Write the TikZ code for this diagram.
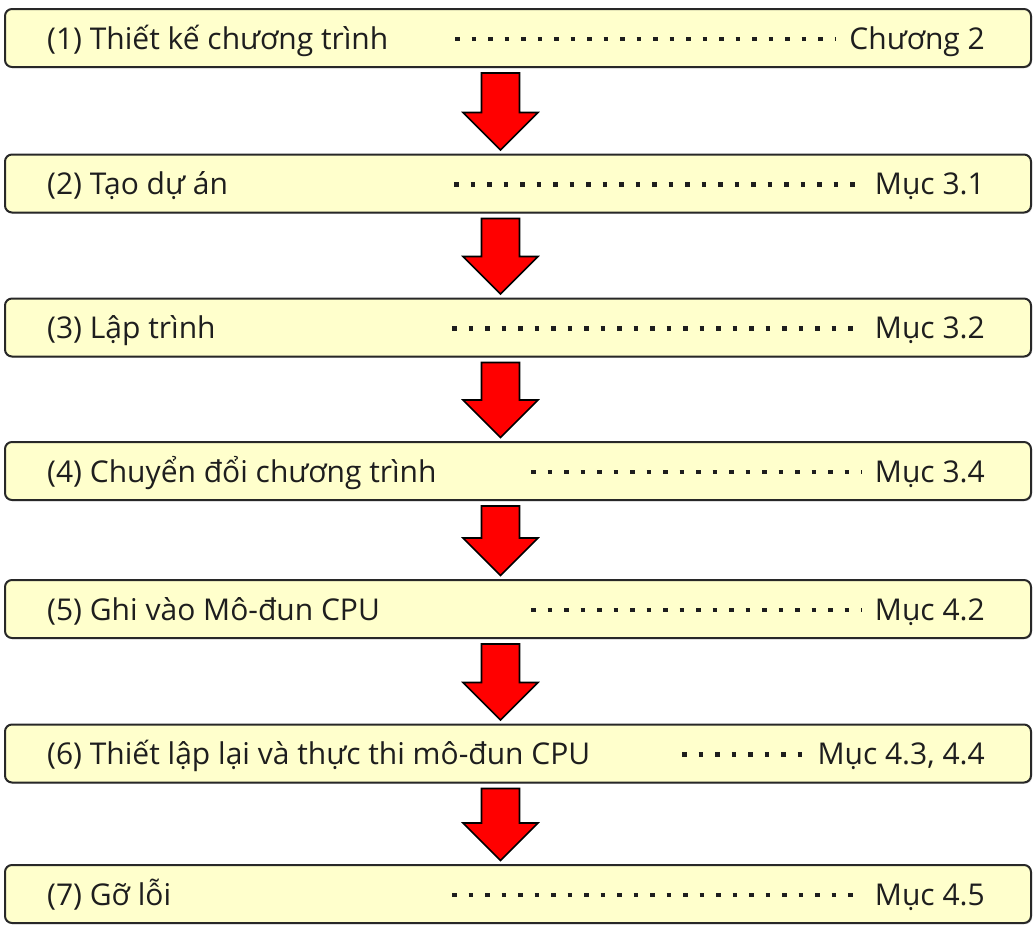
\documentclass[tikz,border=0pt]{standalone}
\usepackage{fontspec}
\setmainfont{Open Sans}
\usetikzlibrary{calc,shadows}

\definecolor{boxfill}{RGB}{255,255,204}
\definecolor{boxline}{RGB}{40,40,40}
\definecolor{textgray}{RGB}{30,30,30}

% block arrow from one box down to the next
\newcommand{\redarrow}[2]{%
    \filldraw[bigarrow] ($(#1.south -| axis)+(-19pt,-5pt)$) -- ($(#1.south -| axis)+(19pt,-5pt)$)
        -- ($(#2.north -| axis)+(19pt,41pt)$) -- ($(#2.north -| axis)+(37.5pt,41pt)$)
        -- ($(#2.north -| axis)+(0,3.5pt)$)
        -- ($(#2.north -| axis)+(-37.5pt,41pt)$) -- ($(#2.north -| axis)+(-19pt,41pt)$) -- cycle;}

\begin{document}
\begin{tikzpicture}[
    stepbox/.style={rectangle, rounded corners=7pt, draw=boxline, line width=2pt, fill=boxfill,
        minimum width=1026pt, minimum height=58pt, inner sep=0pt,
        drop shadow={shadow xshift=1.2pt, shadow yshift=-1.2pt, opacity=0.3}},
    steptext/.style={inner sep=0pt, anchor=base west, text=textgray, font=\fontsize{30}{34}\selectfont},
    reftext/.style={inner sep=0pt, anchor=base east, text=textgray, font=\fontsize{30}{34}\selectfont},
    dotline/.style={line width=4.5pt, dash pattern=on 4.5pt off 12pt, textgray},
    bigarrow/.style={fill=red, draw=black, line width=1.6pt, line join=miter}
]
    \useasboundingbox (0,0) rectangle (1036pt,-932pt);
    \coordinate (axis) at (500.5pt,0);

    % Draw boxes
    \node[stepbox] (1) at (518pt,-38pt) {};
    \node[stepbox] (2) at (518pt,-183.5pt) {};
    \node[stepbox] (3) at (518pt,-327.5pt) {};
    \node[stepbox] (4) at (518pt,-471pt) {};
    \node[stepbox] (5) at (518pt,-609pt) {};
    \node[stepbox] (6) at (518pt,-753.5pt) {};
    \node[stepbox] (7) at (518pt,-894pt) {};

    % Draw arrows
    \redarrow{1}{2}
    \redarrow{2}{3}
    \redarrow{3}{4}
    \redarrow{4}{5}
    \redarrow{5}{6}
    \redarrow{6}{7}

    % Labels
    \node[steptext] (t1) at ($(1.west)+(43pt,-11pt)$) {(1) Thiết kế chương trình};
    \node[steptext] (t2) at ($(2.west)+(43pt,-11pt)$) {(2) Tạo dự án};
    \node[steptext] (t3) at ($(3.west)+(43pt,-11pt)$) {(3) Lập trình};
    \node[steptext] (t4) at ($(4.west)+(43pt,-11pt)$) {(4) Chuyển đổi chương trình};
    \node[steptext] (t5) at ($(5.west)+(43pt,-11pt)$) {(5) Ghi vào Mô-đun CPU};
    \node[steptext] (t6) at ($(6.west)+(43pt,-11pt)$) {(6) Thiết lập lại và thực thi mô-đun CPU};
    \node[steptext] (t7) at ($(7.west)+(43pt,-11pt)$) {(7) Gỡ lỗi};

    \node[reftext] (r1) at ($(1.east)+(-47pt,-11pt)$) {Chương 2};
    \node[reftext] (r2) at ($(2.east)+(-47pt,-11pt)$) {Mục 3.1};
    \node[reftext] (r3) at ($(3.east)+(-47pt,-11pt)$) {Mục 3.2};
    \node[reftext] (r4) at ($(4.east)+(-47pt,-11pt)$) {Mục 3.4};
    \node[reftext] (r5) at ($(5.east)+(-47pt,-11pt)$) {Mục 4.2};
    \node[reftext] (r6) at ($(6.east)+(-47pt,-11pt)$) {Mục 4.3, 4.4};
    \node[reftext] (r7) at ($(7.east)+(-47pt,-11pt)$) {Mục 4.5};

    % Dotted leaders
    \draw[dotline] ($(1.west)+(451pt,-1pt)$) -- ($(r1.west |- 1)+(-13pt,-1pt)$);
    \draw[dotline] ($(2.west)+(450pt,-1pt)$) -- ($(r2.west |- 2)+(-13pt,-1pt)$);
    \draw[dotline] ($(3.west)+(448pt,-1pt)$) -- ($(r3.west |- 3)+(-13pt,-1pt)$);
    \draw[dotline] ($(4.west)+(527pt,-1pt)$) -- ($(r4.west |- 4)+(-13pt,-1pt)$);
    \draw[dotline] ($(5.west)+(527pt,-1pt)$) -- ($(r5.west |- 5)+(-13pt,-1pt)$);
    \draw[dotline] ($(6.west)+(678pt,-1pt)$) -- ($(r6.west |- 6)+(-13pt,-1pt)$);
    \draw[dotline] ($(7.west)+(448pt,-1pt)$) -- ($(r7.west |- 7)+(-13pt,-1pt)$);
\end{tikzpicture}
\end{document}
